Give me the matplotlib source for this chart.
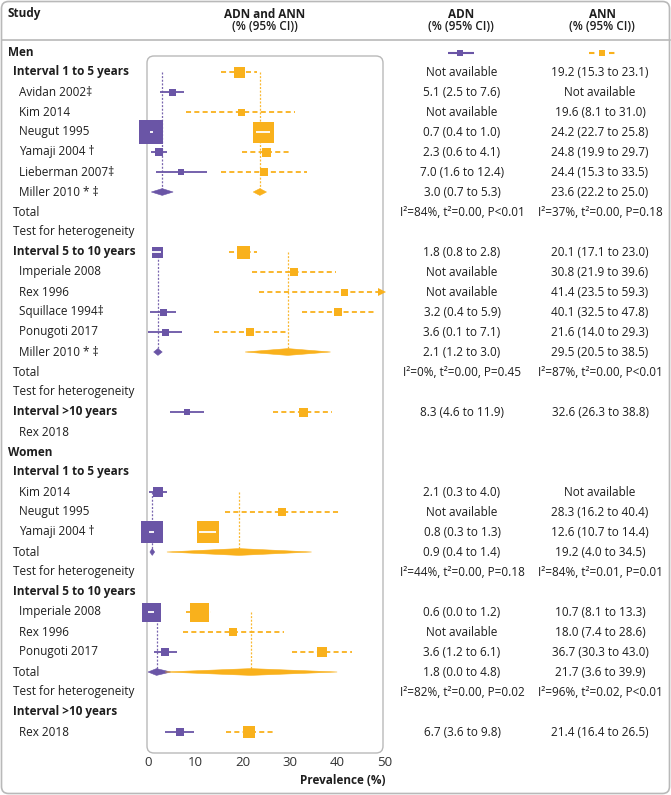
import matplotlib
matplotlib.use("Agg")
import matplotlib.pyplot as plt
from matplotlib.patches import FancyBboxPatch, Polygon
from matplotlib.transforms import blended_transform_factory as btf

plt.rcParams['font.family'] = ['Open Sans', 'DejaVu Sans']

PURPLE = '#6a55a6'
ORANGE = '#f9b11c'
TXT = '#1e1e1e'
GRID = '#b9b9b9'

# ---------------- data ----------------
row_labels = [
    "Men", "Interval 1 to 5 years", "Avidan 2002\u2021", "Kim 2014", "Neugut 1995",
    "Yamaji 2004 \u2020", "Lieberman 2007\u2021", "Miller 2010 * \u2021", "Total",
    "Test for heterogeneity", "Interval 5 to 10 years", "Imperiale 2008", "Rex 1996",
    "Squillace 1994\u2021", "Ponugoti 2017", "Miller 2010 * \u2021", "Total",
    "Test for heterogeneity", "Interval >10 years", "Rex 2018",
    "Women", "Interval 1 to 5 years", "Kim 2014", "Neugut 1995", "Yamaji 2004 \u2020",
    "Total", "Test for heterogeneity", "Interval 5 to 10 years", "Imperiale 2008",
    "Rex 1996", "Ponugoti 2017", "Total", "Test for heterogeneity",
    "Interval >10 years", "Rex 2018",
]
# 0 = sex heading, 1 = interval heading, 2 = study, 3 = total / test
row_kind = [0, 1, 2, 2, 2, 2, 2, 2, 3, 3, 1, 2, 2, 2, 2, 2, 3, 3, 1, 2,
            0, 1, 2, 2, 2, 3, 3, 1, 2, 2, 2, 3, 3, 1, 2]

# ADN estimates (%)
adn_rows = [2, 4, 5, 6, 7, 10, 13, 14, 15, 18, 22, 24, 25, 28, 30, 31, 34]
adn_est = [5.1, 0.7, 2.3, 7.0, 3.0, 1.8, 3.2, 3.6, 2.1, 8.3, 2.1, 0.8, 0.9, 0.6, 3.6, 1.8, 6.7]
adn_lo = [2.5, 0.4, 0.6, 1.6, 0.7, 0.8, 0.4, 0.1, 1.2, 4.6, 0.3, 0.3, 0.4, 0.0, 1.2, 0.0, 3.6]
adn_hi = [7.6, 1.0, 4.1, 12.4, 5.3, 2.8, 5.9, 7.1, 3.0, 11.9, 4.0, 1.3, 1.4, 1.2, 6.1, 4.8, 9.8]
adn_na_rows = [1, 3, 11, 12, 23, 29]

# ANN estimates (%)
ann_rows = [1, 3, 4, 5, 6, 7, 10, 11, 12, 13, 14, 15, 18, 23, 24, 25, 28, 29, 30, 31, 34]
ann_est = [19.2, 19.6, 24.2, 24.8, 24.4, 23.6, 20.1, 30.8, 41.4, 40.1, 21.6, 29.5, 32.6,
           28.3, 12.6, 19.2, 10.7, 18.0, 36.7, 21.7, 21.4]
ann_lo = [15.3, 8.1, 22.7, 19.9, 15.3, 22.2, 17.1, 21.9, 23.5, 32.5, 14.0, 20.5, 26.3,
          16.2, 10.7, 4.0, 8.1, 7.4, 30.3, 3.6, 16.4]
ann_hi = [23.1, 31.0, 25.8, 29.7, 33.5, 25.0, 23.0, 39.6, 59.3, 47.8, 29.3, 38.5, 38.8,
          40.4, 14.4, 34.5, 13.3, 28.6, 43.0, 39.9, 26.5]
ann_na_rows = [2, 22]

# pooled rows and the first row of their group
pooled_rows = [7, 15, 25, 31]
group_start = [1, 10, 22, 28]

# heterogeneity
het_rows = [8, 16, 26, 32]
adn_i2 = [84, 0, 44, 82]
adn_tau2 = [0.00, 0.00, 0.00, 0.00]
adn_p = ["<0.01", "=0.45", "=0.18", "=0.02"]
ann_i2 = [37, 87, 84, 96]
ann_tau2 = [0.00, 0.00, 0.01, 0.02]
ann_p = ["=0.18", "<0.01", "=0.01", "<0.01"]

x_ticks = [0, 10, 20, 30, 40, 50]

# ---------------- style ----------------
adn_sq_px = {2: 7, 4: 24, 5: 8, 6: 6, 10: 11, 13: 7, 14: 7, 18: 6, 22: 10,
             24: 22, 28: 19, 30: 8, 34: 8}
ann_sq_px = {1: 11, 3: 7, 4: 21, 5: 9, 6: 8, 10: 13, 11: 8, 12: 7, 13: 8, 14: 8,
             18: 9, 23: 8, 24: 23, 28: 19, 29: 8, 30: 10, 34: 12}

W, H = 671, 795
DPI = 100
X0_PX, X50_PX = 148, 385
PXU = (X50_PX - X0_PX) / 50.0
ROW0_PX, ROW_PX = 52, 20
XMAX = 50
FS = 8.5

fig = plt.figure(figsize=(W / DPI, H / DPI), dpi=DPI)
deco = fig.add_axes([0, 0, 1, 1], zorder=0)
deco.set_xlim(0, W)
deco.set_ylim(H, 0)
deco.axis('off')

ax = fig.add_axes([X0_PX / W, 0, (X50_PX - X0_PX) / W, 1], zorder=1)
ax.patch.set_alpha(0)
ax.set_xlim(0, XMAX)
ax.set_ylim((H - ROW0_PX) / ROW_PX, -ROW0_PX / ROW_PX)
ax.axis('off')

# frames
deco.add_patch(FancyBboxPatch((1.5, 1.5), W - 3, H - 3,
                              boxstyle="round,pad=0,rounding_size=7",
                              fc='none', ec=GRID, lw=1.2))
deco.plot([1.5, W - 1.5], [39.5, 39.5], color=GRID, lw=1.2)
deco.add_patch(FancyBboxPatch((147, 56), 236, 697,
                              boxstyle="round,pad=0,rounding_size=7",
                              fc='none', ec=GRID, lw=1.0))

# header
deco.text(8, 14, "Study", fontsize=FS, fontweight='bold', color=TXT, va='center')
for xc, t in [(265, "ADN and ANN"), (461, "ADN"), (602, "ANN")]:
    deco.text(xc, 14, t, fontsize=FS, fontweight='bold', color=TXT, ha='center', va='center')
    deco.text(xc, 26.5, "(% (95% CI))", fontsize=FS, fontweight='semibold', color=TXT,
              ha='center', va='center')

# legend glyphs
deco.plot([448, 474], [53, 53], color=PURPLE, lw=1.5, solid_capstyle='butt')
deco.plot([460], [53], marker='s', ms=5, color=PURPLE, mew=0)
deco.plot([589, 616], [53, 53], color=ORANGE, lw=1.5, ls=(0, (2.6, 2.2)), dash_capstyle='butt')
deco.plot([602], [53], marker='s', ms=5, color=ORANGE, mew=0)

# row labels
ttf = btf(deco.transData, ax.transData)
indent = {0: 8, 1: 13, 2: 19, 3: 13}
for r, (lab, k) in enumerate(zip(row_labels, row_kind)):
    deco.text(indent[k], r, lab, transform=ttf, fontsize=FS, color=TXT, va='center',
              fontweight='bold' if k in (0, 1) else 'normal')

ADN_X, ANN_X = 462, 600


def fmt(e, l, h):
    return f"{e:.1f} ({l:.1f} to {h:.1f})"


for r, e, l, h in zip(adn_rows, adn_est, adn_lo, adn_hi):
    deco.text(ADN_X, r, fmt(e, l, h), transform=ttf, fontsize=FS, color=TXT, ha='center', va='center')
for r in adn_na_rows:
    deco.text(ADN_X, r, "Not available", transform=ttf, fontsize=FS, color=TXT, ha='center', va='center')
for r, e, l, h in zip(ann_rows, ann_est, ann_lo, ann_hi):
    deco.text(ANN_X, r, fmt(e, l, h), transform=ttf, fontsize=FS, color=TXT, ha='center', va='center')
for r in ann_na_rows:
    deco.text(ANN_X, r, "Not available", transform=ttf, fontsize=FS, color=TXT, ha='center', va='center')
for r, i2, t2, p in zip(het_rows, adn_i2, adn_tau2, adn_p):
    deco.text(ADN_X, r, f"I\u00b2={i2}%, t\u00b2={t2:.2f}, P{p}", transform=ttf, fontsize=FS,
              color=TXT, ha='center', va='center')
for r, i2, t2, p in zip(het_rows, ann_i2, ann_tau2, ann_p):
    deco.text(ANN_X, r, f"I\u00b2={i2}%, t\u00b2={t2:.2f}, P{p}", transform=ttf, fontsize=FS,
              color=TXT, ha='center', va='center')


def draw_series(rows, est, lo, hi, sizes, color, dashed):
    ls = (0, (2.8, 1.8)) if dashed else '-'
    for r, e, l, h in zip(rows, est, lo, hi):
        if r in pooled_rows:
            hh = 0.17
            ax.add_patch(Polygon([(l, r), (e, r - hh), (h, r), (e, r + hh)], closed=True,
                                 fc=color, ec=color, lw=0.4, clip_on=False, zorder=4))
            start = group_start[pooled_rows.index(r)]
            ax.plot([e, e], [start, r], color=color, lw=0.9, ls=(0, (1.6, 1.3)),
                    clip_on=False, zorder=1, alpha=0.9)
            continue
        s = sizes[r]
        hi_draw = min(h, XMAX - 0.9)
        ax.plot([l, hi_draw], [r, r], color=color, lw=1.3, ls=ls, clip_on=False, zorder=2,
                solid_capstyle='butt', dash_capstyle='butt')
        if h > XMAX:
            ax.plot([XMAX - 0.6], [r], marker='>', ms=5.5, color=color, mew=0, clip_on=False, zorder=2)
        ax.plot([e], [r], marker='s', ms=s * 0.72, color=color, mew=0, clip_on=False, zorder=3)
        half = s / 2.0 / PXU
        if l > e - half and h < e + half:
            ax.plot([l, h], [r, r], color='white', lw=1.3, solid_capstyle='butt',
                    clip_on=False, zorder=5)


draw_series(adn_rows, adn_est, adn_lo, adn_hi, adn_sq_px, PURPLE, False)
draw_series(ann_rows, ann_est, ann_lo, ann_hi, ann_sq_px, ORANGE, True)

# x ticks and label
tick_row = (762 - ROW0_PX) / ROW_PX
for t in x_ticks:
    ax.text(t, tick_row, str(t), fontsize=FS + 1.0, color='#333333', ha='center', va='center',
            clip_on=False)
ax.text(XMAX, (781 - ROW0_PX) / ROW_PX, "Prevalence (%)", fontsize=FS, fontweight='bold',
        color=TXT, ha='right', va='center', clip_on=False)

fig.savefig("out.png", dpi=DPI)
